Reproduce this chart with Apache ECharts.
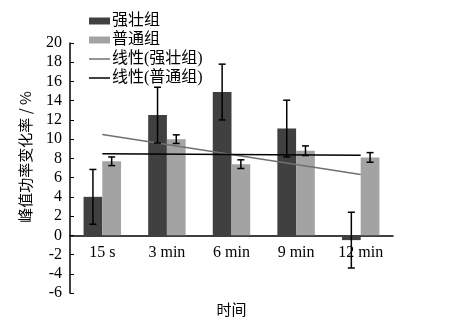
<!DOCTYPE html>
<html><head><meta charset="utf-8">
<script src="https://cdn.jsdelivr.net/npm/echarts@6/dist/echarts.min.js"></script>
<style>html,body{margin:0;padding:0;background:#fff}#c{width:462px;height:323px}</style>
</head><body><div id="c"></div>
<script>
const categories = ['15 s', '3 min', '6 min', '9 min', '12 min'];
const strongValues = [4.0, 12.5, 14.9, 11.1, -0.5];
const strongErrors = [2.85, 2.9, 2.9, 2.95, 2.9];
const normalValues = [7.7, 10.0, 7.4, 8.8, 8.1];
const normalErrors = [0.45, 0.45, 0.45, 0.5, 0.5];
const strongTrend = [10.48, null, null, null, 6.32];
const normalTrend = [8.48, null, null, null, 8.32];
const yTicks = { min: -6, max: 20, interval: 2 };

const BAR_FRAC = 0.29;
const serif = 'Liberation Serif, Noto Sans CJK SC';
const cjk = 'Noto Sans CJK SC';
const GRID = { left: 70, right: 69, top: 43, bottom: 30 };
const gridH = 323 - GRID.top - GRID.bottom;
const zeroOffset = -gridH * (0 - yTicks.min) / (yTicks.max - yTicks.min);
const lineIcon = 'path://M0,0 H21 V1.5 H0 Z';

function errSeries(values, errors, side) {
  return {
    type: 'custom',
    z: 10,
    silent: true,
    data: values.map((v, i) => [i, v, errors[i]]),
    encode: { x: 0, y: 1 },
    renderItem: function (params, api) {
      const i = api.value(0), v = api.value(1), e = api.value(2);
      const bw = api.size([1, 0])[0] * BAR_FRAC;
      const c = api.coord([i, v]);
      const x = c[0] + side * bw / 2;
      const hi = api.coord([i, v + e])[1];
      const lo = api.coord([i, v - e])[1];
      const w = 3.5;
      const st = { stroke: '#000', lineWidth: 1.5 };
      return { type: 'group', children: [
        { type: 'line', shape: { x1: x, y1: hi, x2: x, y2: lo }, style: st },
        { type: 'line', shape: { x1: x - w, y1: hi, x2: x + w, y2: hi }, style: st },
        { type: 'line', shape: { x1: x - w, y1: lo, x2: x + w, y2: lo }, style: st }
      ]};
    }
  };
}

const chart = echarts.init(document.getElementById('c'), null, { renderer: 'canvas' });
chart.setOption({
  animation: false,
  backgroundColor: '#fff',
  grid: Object.assign({ containLabel: false, outerBoundsMode: 'none' }, GRID),
  legend: {
    orient: 'vertical', left: 84, top: 8, itemGap: 3,
    itemWidth: 21, itemHeight: 7,
    textStyle: { fontFamily: serif, fontSize: 16, color: '#000', lineHeight: 16, padding: [0, 0, 0, -3] },
    data: [
      { name: '强壮组', icon: 'rect' },
      { name: '普通组', icon: 'rect' },
      { name: '线性(强壮组)', icon: lineIcon },
      { name: '线性(普通组)', icon: lineIcon }
    ]
  },
  xAxis: {
    type: 'category', data: categories,
    offset: zeroOffset,
    name: '时间', nameLocation: 'middle', nameGap: 66,
    nameTextStyle: { fontFamily: cjk, fontSize: 15, color: '#000' },
    axisLine: { onZero: false, lineStyle: { color: '#000', width: 1.5 } },
    axisTick: { inside: true, length: 4, lineStyle: { color: '#000' } },
    axisLabel: { fontFamily: serif, fontSize: 16, color: '#000', margin: 9 },
    splitLine: { show: false }
  },
  yAxis: {
    type: 'value', min: yTicks.min, max: yTicks.max, interval: yTicks.interval,
    name: '峰值功率变化率 / %', nameLocation: 'middle', nameGap: 37, nameRotate: 90,
    nameTextStyle: { fontFamily: cjk, fontSize: 15, color: '#000', padding: [0, 0, 0, 22] },
    axisLine: { show: true, lineStyle: { color: '#000', width: 1.5 } },
    axisTick: { show: true, inside: true, length: 4, lineStyle: { color: '#000' } },
    axisLabel: { fontFamily: serif, fontSize: 16, color: '#000', margin: 8 },
    splitLine: { show: false }
  },
  series: [
    { name: '强壮组', type: 'bar', data: strongValues, barWidth: (BAR_FRAC * 100) + '%', barGap: '0%',
      itemStyle: { color: '#404040' } },
    { name: '普通组', type: 'bar', data: normalValues, barWidth: (BAR_FRAC * 100) + '%', barGap: '0%',
      itemStyle: { color: '#a3a3a3' } },
    errSeries(strongValues, strongErrors, -1),
    errSeries(normalValues, normalErrors, 1),
    { name: '线性(强壮组)', type: 'line', data: strongTrend, connectNulls: true, symbol: 'none', z: 5,
      lineStyle: { color: '#707070', width: 1.5 }, itemStyle: { color: '#707070' } },
    { name: '线性(普通组)', type: 'line', data: normalTrend, connectNulls: true, symbol: 'none', z: 5,
      lineStyle: { color: '#000', width: 1.5 }, itemStyle: { color: '#000' } }
  ]
});
</script>
</body></html>
